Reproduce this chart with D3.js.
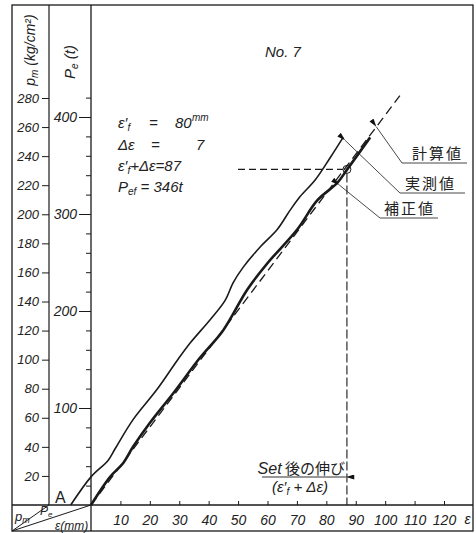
<!DOCTYPE html>
<meta charset="utf-8">
<style>
  body { margin: 0; background: #fff; }
  svg { font-family: "Liberation Sans", sans-serif; }
  .hand { font-style: italic; fill: #222; }
  .jp { font-family: "Noto Sans CJK JP", sans-serif; fill: #222; }
</style>
<body>
<div id="chart"></div>
<script src="https://d3js.org/d3.v7.min.js"></script>
<script>
// curves: [ε (mm), Pe (t)]
const measured = [[-6.9,0],[0,29],[5.8,46],[8.2,58],[14.3,88],[22.4,119],[29.3,149],[33.7,167],[40.5,191],[45.6,211],[48.3,229],[51.7,245],[57.5,266],[63.3,284],[67.7,304],[71.1,318],[76.2,335],[81.3,358],[85.7,379]];
const corrected = [[0,0],[6.5,29],[10.9,43],[14.3,60],[20.1,85],[27.9,115],[37.1,152],[44.9,180],[53.1,222],[59.9,249],[70.1,284],[76.9,314],[83.7,332],[87.1,346],[94.9,379]];
const calculated = [[0,0],[105,422]];
const setEps = 87, setPe = 346;

const epsTicks = d3.range(10, 121, 10);
const pmTicks = d3.range(20, 281, 20);
const peTicks = d3.range(20, 421, 20);
const peLabels = [100, 200, 300, 400];

const width = 476, height = 533;
const L = 12, T = 5, R = 473, B = 531;
const base = 505, pmLine = 49, peLine = 91;

const x = d3.scaleLinear().domain([0, 120]).range([peLine, 444]);
const yPe = d3.scaleLinear().domain([0, 400]).range([base, 117]);
const yPm = d3.scaleLinear().domain([0, 280]).range([base, 98]);

const svg = d3.select("#chart").append("svg")
  .attr("width", width).attr("height", height);

svg.append("defs").append("marker")
  .attr("id", "arr").attr("viewBox", "0 0 10 6")
  .attr("refX", 0).attr("refY", 3)
  .attr("markerWidth", 9).attr("markerHeight", 5)
  .attr("markerUnits", "userSpaceOnUse")
  .attr("orient", "auto-start-reverse")
  .append("path").attr("d", "M0,3 L10,0 L10,6 Z").attr("fill", "#111");

const ink = "#1a1a1a";

// frame and column rules
const g = svg.append("g").attr("stroke", ink).attr("fill", "none");
g.append("rect").attr("x", L).attr("y", T).attr("width", R - L).attr("height", B - T).attr("stroke-width", 1.3);
g.append("line").attr("x1", pmLine).attr("x2", pmLine).attr("y1", T).attr("y2", base).attr("stroke-width", 1.2);
g.append("line").attr("x1", peLine).attr("x2", peLine).attr("y1", T).attr("y2", B).attr("stroke-width", 1.3);
g.append("line").attr("x1", L).attr("x2", R).attr("y1", base).attr("y2", base).attr("stroke-width", 1.3);
g.append("line").attr("x1", L).attr("y1", B).attr("x2", pmLine).attr("y2", base).attr("stroke-width", 1);
g.append("line").attr("x1", L).attr("y1", B).attr("x2", peLine).attr("y2", base).attr("stroke-width", 1);

// Pm axis
const pmAxis = svg.append("g").attr("transform", `translate(${pmLine},0)`)
  .call(d3.axisLeft(yPm).tickValues(pmTicks).tickSize(7).tickPadding(3));
pmAxis.select(".domain").remove();
pmAxis.selectAll("text").attr("class", "hand").style("font-size", "13px");

// Pe axis
const peAxis = svg.append("g").attr("transform", `translate(${peLine},0)`)
  .call(d3.axisLeft(yPe).tickValues(peTicks).tickSize(5)
    .tickFormat(d => peLabels.includes(d) ? d : ""));
peAxis.select(".domain").remove();
peAxis.selectAll(".tick line").attr("x2", d => peLabels.includes(d) ? -12 : -5);
peAxis.selectAll("text").attr("x", -14).attr("class", "hand").style("font-size", "14px");

// ε axis
const xAxis = svg.append("g").attr("transform", `translate(0,${base})`)
  .call(d3.axisBottom(x).tickValues(epsTicks).tickSize(-4).tickPadding(10));
xAxis.select(".domain").remove();
xAxis.selectAll("text").attr("class", "hand").style("font-size", "14px");
svg.selectAll(".tick line").attr("stroke", ink);
svg.selectAll(".tick text").attr("fill", "#222");
svg.append("text").attr("class", "hand").attr("x", x(128)).attr("y", 524)
  .attr("text-anchor", "middle").style("font-size", "14px").text("ε");

// axis titles
svg.append("text").attr("class", "hand").style("font-size", "14px")
  .attr("transform", "translate(35,50) rotate(-90)").attr("text-anchor", "middle")
  .html('p<tspan font-size="10" dy="3">m</tspan><tspan dy="-3"> (kg/cm²)</tspan>');
svg.append("text").attr("class", "hand").style("font-size", "15px")
  .attr("transform", "translate(75,62) rotate(-90)").attr("text-anchor", "middle")
  .html('P<tspan font-size="10" dy="3">e</tspan><tspan dy="-3"> (t)</tspan>');

// corner labels
svg.append("text").attr("class", "hand").attr("x", 15).attr("y", 521).style("font-size", "13px")
  .html('p<tspan font-size="9" dy="2">m</tspan>');
svg.append("text").attr("class", "hand").attr("x", 40).attr("y", 515).style("font-size", "12px")
  .html('P<tspan font-size="8" dy="2">e</tspan>');
svg.append("text").attr("class", "hand").attr("x", 55).attr("y", 530).style("font-size", "12px")
  .text("ε(mm)");
svg.append("text").attr("x", 55).attr("y", 503).attr("fill", "#222").style("font-size", "16px").text("A");

// curves
const line = d3.line().x(d => x(d[0])).y(d => yPe(d[1]));
const smooth = d3.line().x(d => x(d[0])).y(d => yPe(d[1])).curve(d3.curveCatmullRom.alpha(0.5));

svg.append("path").datum(calculated).attr("d", line)
  .attr("fill", "none").attr("stroke", ink).attr("stroke-width", 1.3).attr("stroke-dasharray", "9,5");
svg.append("path").datum(measured).attr("d", smooth)
  .attr("fill", "none").attr("stroke", ink).attr("stroke-width", 1.6);
svg.append("path").datum(corrected).attr("d", smooth)
  .attr("fill", "none").attr("stroke", ink).attr("stroke-width", 2.6);

// set point guides
const sx = x(setEps), sy = yPe(setPe);
svg.append("line").attr("x1", 238).attr("x2", sx - 4).attr("y1", sy).attr("y2", sy)
  .attr("stroke", ink).attr("stroke-width", 1.1).attr("stroke-dasharray", "7,4");
svg.append("line").attr("x1", sx).attr("x2", sx).attr("y1", sy + 4).attr("y2", base)
  .attr("stroke", ink).attr("stroke-width", 1.1).attr("stroke-dasharray", "9,3");
svg.append("circle").attr("cx", sx).attr("cy", sy).attr("r", 4)
  .attr("fill", "none").attr("stroke", ink).attr("stroke-width", 1);

// Set arrow and text
svg.append("line").attr("x1", 262).attr("x2", sx - 1).attr("y1", 477).attr("y2", 477)
  .attr("stroke", ink).attr("stroke-width", 0.9).attr("marker-end", "url(#arr)");
svg.append("text").attr("x", 345).attr("y", 474).attr("text-anchor", "end").attr("class", "hand")
  .style("font-size", "16px")
  .html('Set<tspan font-family="Noto Sans CJK JP" font-style="normal" font-size="15"> 後の伸び</tspan>');
svg.append("text").attr("x", 300).attr("y", 492).attr("text-anchor", "middle").attr("class", "hand")
  .style("font-size", "15px")
  .html('(ε′<tspan font-size="10" dy="3">f</tspan><tspan dy="-3"> + Δε)</tspan>');

// parameters block
const info = svg.append("g").attr("class", "hand").style("font-size", "15px");
info.append("text").attr("x", 118).attr("y", 128).html('ε′<tspan font-size="10" dy="3">f</tspan>');
info.append("text").attr("x", 149).attr("y", 128).text("=");
info.append("text").attr("x", 175).attr("y", 128).text("80");
info.append("text").attr("x", 192).attr("y", 121).style("font-size", "10px").text("mm");
info.append("text").attr("x", 118).attr("y", 150).text("Δε");
info.append("text").attr("x", 151).attr("y", 150).text("=");
info.append("text").attr("x", 196).attr("y", 150).text("7");
info.append("text").attr("x", 118).attr("y", 171)
  .html('ε′<tspan font-size="10" dy="3">f</tspan><tspan dy="-3">+Δε=87</tspan>');
info.append("text").attr("x", 118).attr("y", 192)
  .html('P<tspan font-size="10" dy="3">ef</tspan><tspan dy="-3"> = 346t</tspan>');

svg.append("text").attr("class", "hand").attr("x", 265).attr("y", 57)
  .style("font-size", "15px").text("No. 7");

// leaders
const leaders = [
  {label: "計算値", tip: [x(97), yPe(422 / 105 * 97)], knee: [402, 163], end: 467, ty: 159, tx: 412},
  {label: "実測値", tip: [x(85.7) + 2, yPe(379) + 3], knee: [400, 193], end: 465, ty: 189, tx: 405},
  {label: "補正値", tip: [x(83.7) + 2, yPe(332) + 2], knee: [380, 218], end: 438, ty: 214, tx: 384}
];
leaders.forEach(d => {
  svg.append("polyline")
    .attr("points", [d.tip, d.knee, [d.end, d.knee[1]]].map(p => p.join(",")).join(" "))
    .attr("fill", "none").attr("stroke", ink).attr("stroke-width", 0.8)
    .attr("marker-start", "url(#arr)");
  svg.append("text").attr("class", "jp").attr("x", d.tx).attr("y", d.ty)
    .style("font-size", "15px").attr("letter-spacing", 2).text(d.label);
});
</script>
